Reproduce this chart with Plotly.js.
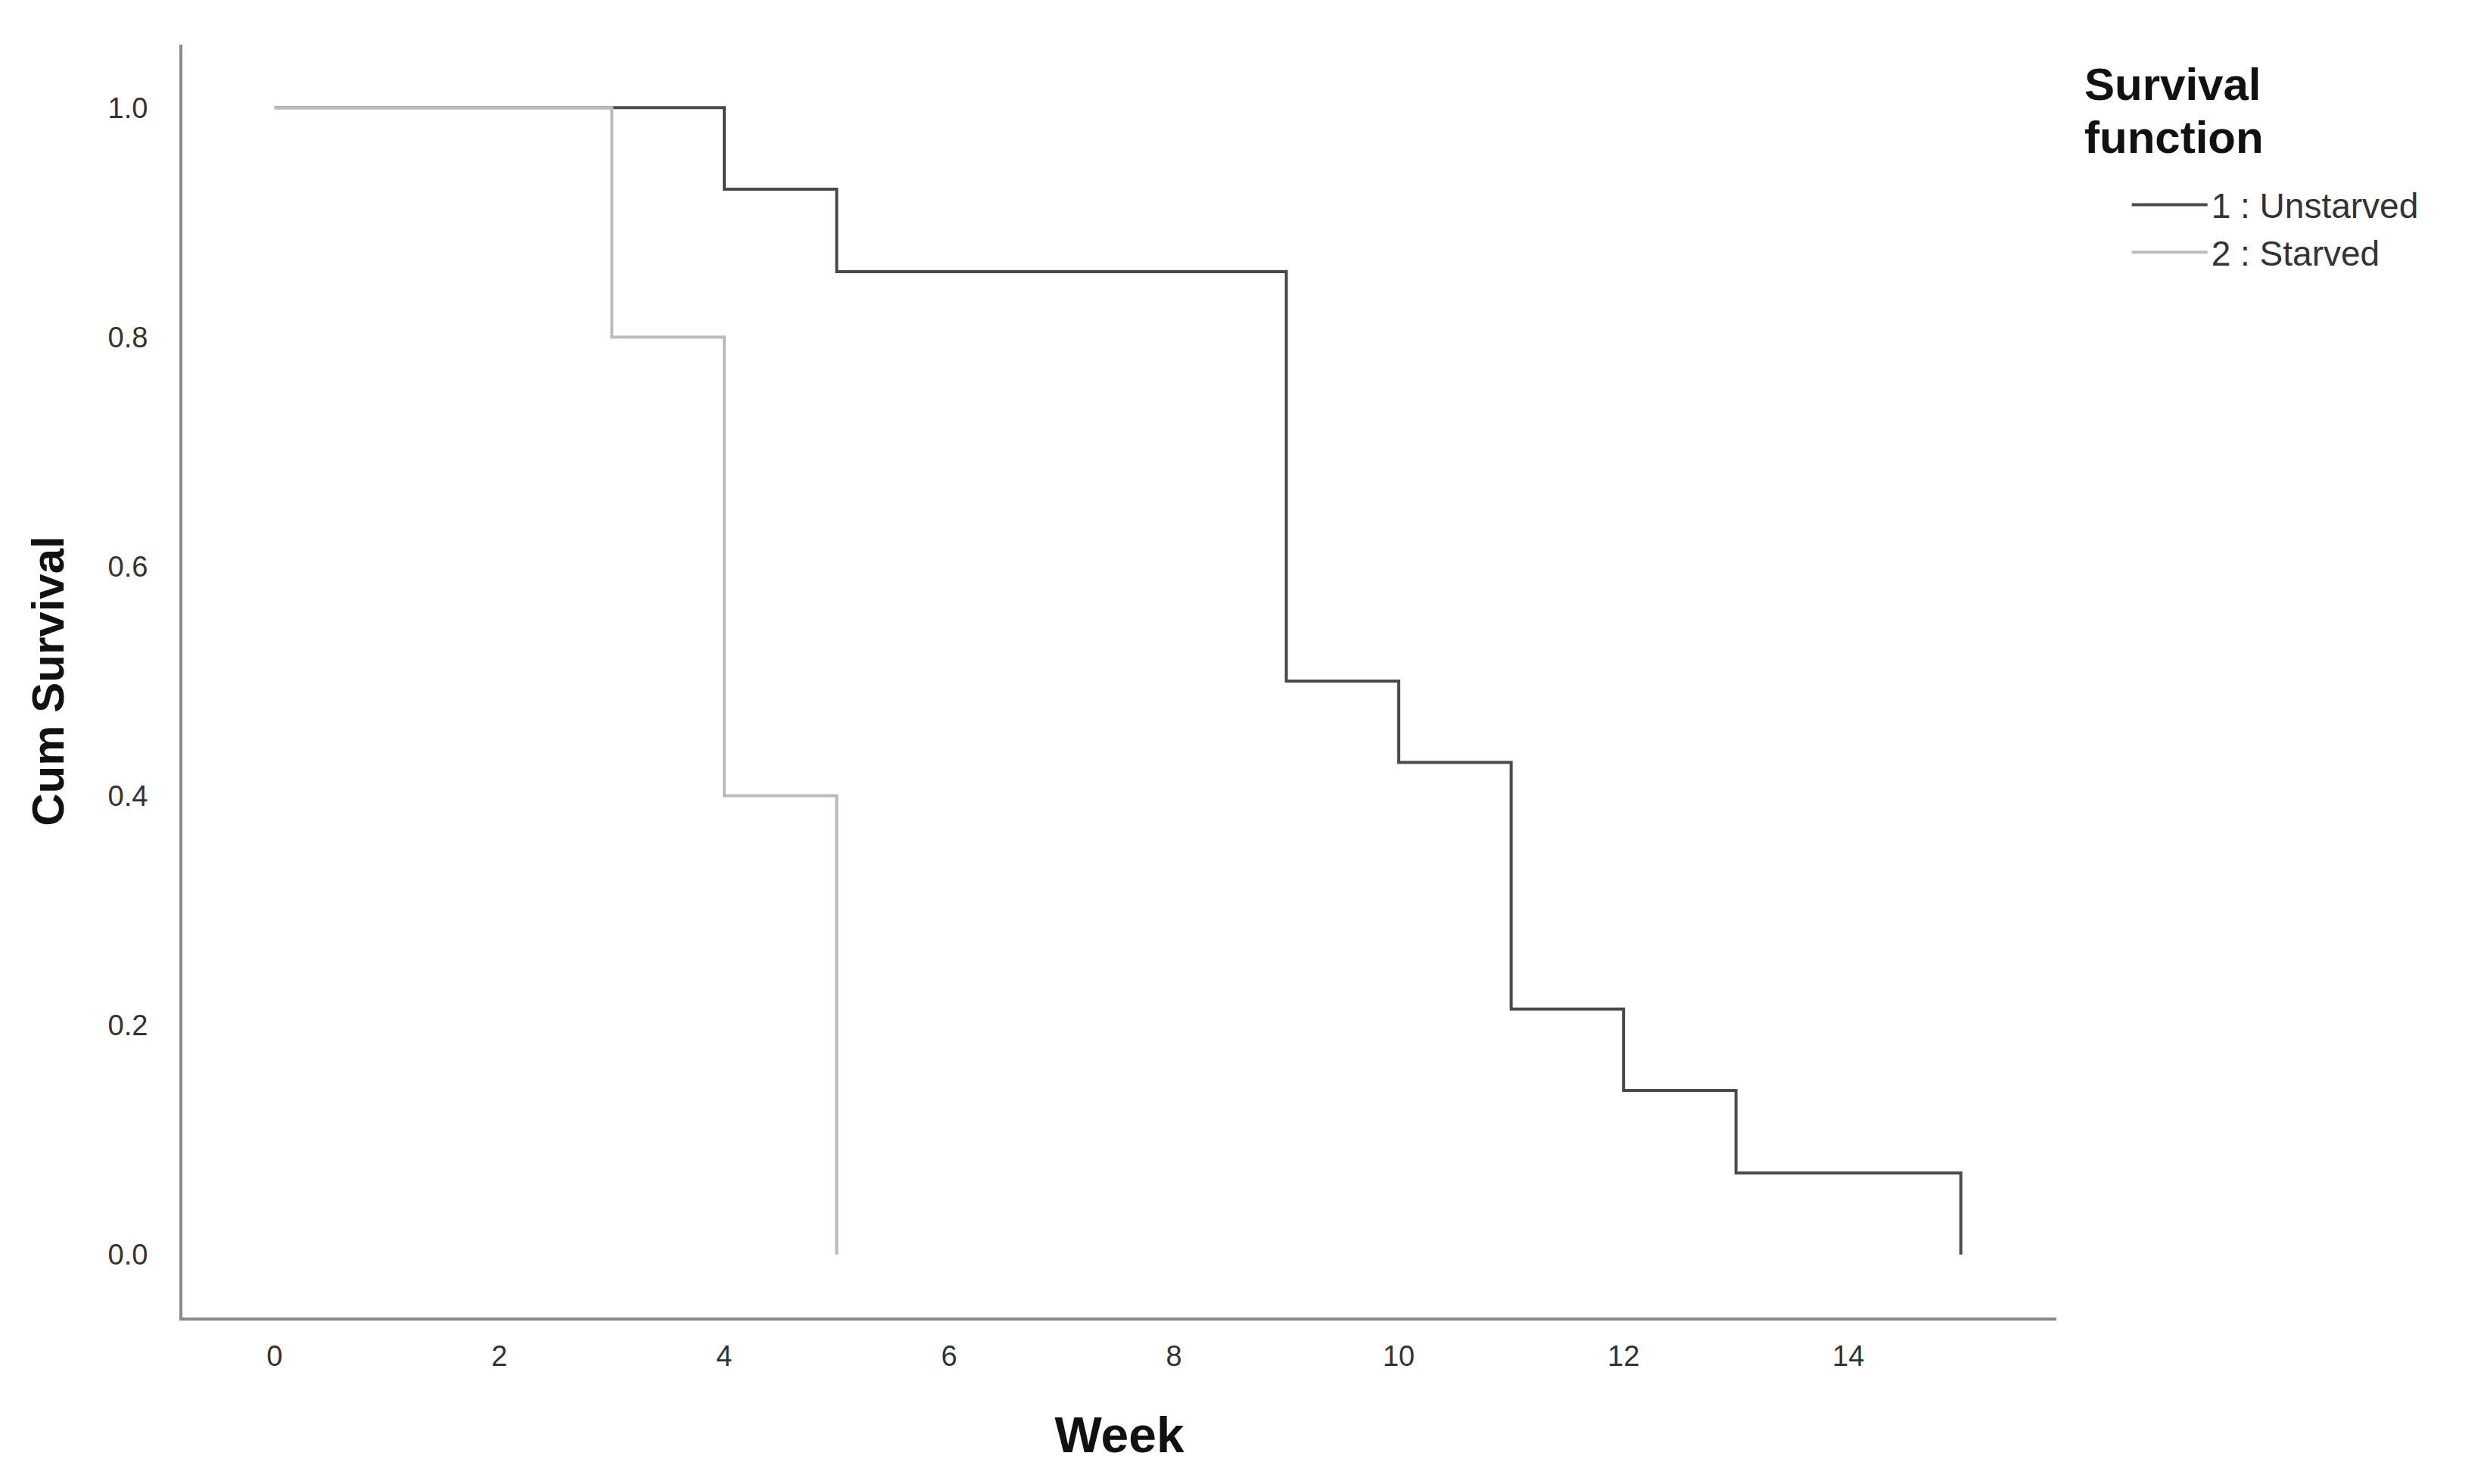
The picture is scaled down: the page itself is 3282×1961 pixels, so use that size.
<!DOCTYPE html>
<html>
<head>
<meta charset="utf-8">
<script src="https://cdn.plot.ly/plotly-3.0.1.min.js"></script>
<style>html,body{margin:0;padding:0;background:#fff;}#chart{width:3282px;height:1961px;}</style>
</head>
<body>
<div id="chart"></div>
<script>
// Kaplan-Meier survival steps
const unstarvedWeeks = [0, 4, 5, 9, 10, 11, 12, 13, 15];
const unstarvedSurv  = [1.0, 0.929, 0.857, 0.5, 0.429, 0.214, 0.143, 0.071, 0.0];
const starvedWeeks   = [0, 3, 4, 5];
const starvedSurv    = [1.0, 0.8, 0.4, 0.0];
const seriesNames    = ['1 : Unstarved', '2 : Starved'];
const legendTitleLines = ['Survival', 'function'];
const xTicks = [0, 2, 4, 6, 8, 10, 12, 14];
const yTicks = [0.0, 0.2, 0.4, 0.6, 0.8, 1.0];
const yTickLabels = ['0.0', '0.2', '0.4', '0.6', '0.8', '1.0'];

const FONT = 'Liberation Sans, Arial, sans-serif';

const traces = [
  {
    x: unstarvedWeeks, y: unstarvedSurv, name: seriesNames[0],
    type: 'scatter', mode: 'lines',
    line: {shape: 'hv', color: '#4a4a4a', width: 4}
  },
  {
    x: starvedWeeks, y: starvedSurv, name: seriesNames[1],
    type: 'scatter', mode: 'lines',
    line: {shape: 'hv', color: '#bcbcbc', width: 4}
  }
];

const layout = {
  width: 3282, height: 1961,
  paper_bgcolor: '#ffffff', plot_bgcolor: '#ffffff',
  margin: {l: 241, r: 565, t: 59, b: 220, pad: 0},
  font: {family: FONT, color: '#222'},
  showlegend: true,
  xaxis: {
    range: [-0.82, 15.85],
    tickvals: xTicks,
    ticktext: xTicks.map(String),
    showgrid: false, zeroline: false,
    showline: true, linecolor: '#8a8a8a', linewidth: 4,
    ticks: '', ticklabelstandoff: 14,
    tickfont: {family: FONT, size: 38, color: '#333'},
    title: {text: '<b>Week</b>', font: {family: FONT, size: 66, color: '#111'}, standoff: 62}
  },
  yaxis: {
    range: [-0.055, 1.055],
    tickvals: yTicks,
    ticktext: yTickLabels,
    showgrid: false, zeroline: false,
    showline: true, linecolor: '#8a8a8a', linewidth: 4,
    ticks: '', ticklabelstandoff: 34,
    tickfont: {family: FONT, size: 38, color: '#333'},
    title: {text: '<b>Cum Survival</b>', font: {family: FONT, size: 60, color: '#111'}, standoff: 40}
  },
  legend: {
    x: 1.014, xanchor: 'left',
    y: 0.8555, yanchor: 'middle',
    bgcolor: 'rgba(0,0,0,0)', borderwidth: 0,
    font: {family: FONT, size: 46, color: '#333'},
    indentation: 60,
    itemwidth: 100,
    tracegroupgap: 0
  },
  annotations: [
    {xref: 'paper', yref: 'paper', x: 1.0141, y: 0.9685, xanchor: 'left', yanchor: 'middle',
     text: '<b>' + legendTitleLines[0] + '</b>', showarrow: false,
     font: {family: FONT, size: 60, color: '#111'}},
    {xref: 'paper', yref: 'paper', x: 1.0141, y: 0.9269, xanchor: 'left', yanchor: 'middle',
     text: '<b>' + legendTitleLines[1] + '</b>', showarrow: false,
     font: {family: FONT, size: 60, color: '#111'}}
  ]
};

Plotly.newPlot('chart', traces, layout, {displayModeBar: false, staticPlot: true});
</script>
</body>
</html>
